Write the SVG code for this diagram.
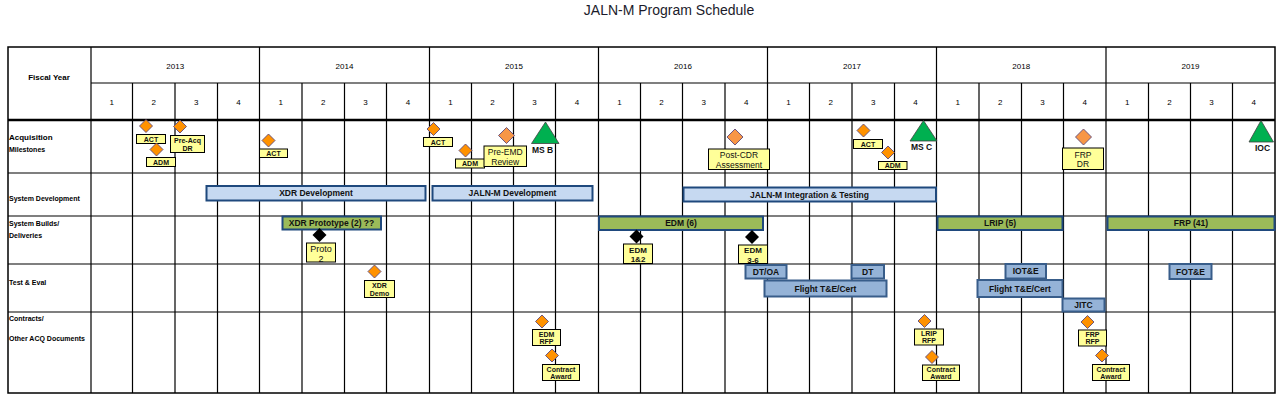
<svg xmlns="http://www.w3.org/2000/svg" xmlns:xlink="http://www.w3.org/1999/xlink" width="1279" height="400" viewBox="0 0 1279 400">
<style>
.g{stroke:#000;stroke-width:1.2;fill:none}
.tk{stroke:#000;stroke-width:2.6}
.t{font-family:"Liberation Sans",Arial,sans-serif;fill:#000}
.hd{font-size:8px;text-anchor:middle}
.rl{font-size:7px;font-weight:bold}
.yl{fill:#FFFF99;stroke:#000;stroke-width:1}
.ds{fill:#FF9200;stroke:#5F497A;stroke-width:0.9}
.dl{fill:#F79646;stroke:#5F497A;stroke-width:0.9}
.db{fill:#000}
.ms{fill:#00B050;stroke:#404040;stroke-width:0.8}
.b1{fill:#C6D9F1;stroke:#1F497D;stroke-width:2}
.b2{fill:#9BBB59;stroke:#1F497D;stroke-width:2}
.b3{fill:#95B3D7;stroke:#385D8A;stroke-width:2}
.bt{font-family:"Liberation Sans",Arial,sans-serif;font-size:8.5px;font-weight:bold;fill:#111;text-anchor:middle}
.sl{font-family:"Liberation Sans",Arial,sans-serif;font-size:7px;font-weight:bold;fill:#111;text-anchor:middle}
.ll{font-family:"Liberation Sans",Arial,sans-serif;font-size:8.5px;fill:#111;text-anchor:middle}
.ml{font-family:"Liberation Sans",Arial,sans-serif;font-size:8.5px;font-weight:bold;fill:#111;text-anchor:middle}
</style>
<defs>
<path id="dS" d="M0,-6.5L6.5,0L0,6.5L-6.5,0Z"/>
<path id="dL" d="M0,-8L8,0L0,8L-8,0Z"/>
<path id="dB" d="M0,-7L7,0L0,7L-7,0Z"/>
</defs>
<text x="669" y="15" style="font-family:'Liberation Sans',Arial,sans-serif;font-size:14px;fill:#1b1b2b;text-anchor:middle">JALN-M Program Schedule</text>

<g id="grid">
<rect class="g" x="8" y="47" width="1267" height="346" style="stroke-width:1.5"/>
<path class="g" d="M91,83H1275M8,173H1275M8,216H1275M8,264H1275M8,312H1275"/>
<path class="tk" d="M8,120H1275"/>
<path class="g" d="M91,47V393M259.5,47V393M429.5,47V393M598.5,47V393M767.5,47V393M936.5,47V393M1106,47V393"/>
<path class="g" d="M132.5,83V393M175,83V393M217.5,83V393M302,83V393M344.5,83V393M386.5,83V393M471.5,83V393M513.5,83V393M555.5,83V393M640.5,83V393M682.5,83V393M725,83V393M809.5,83V393M852,83V393M894.5,83V393M979,83V393M1021.5,83V393M1063.5,83V393M1148.5,83V393M1190.5,83V393M1232.5,83V393"/>
</g>

<g id="headers" class="t">
<text x="49" y="79.5" style="font-size:8px;font-weight:bold;text-anchor:middle">Fiscal Year</text>
<g class="hd">
<text x="175.2" y="68.5">2013</text><text x="344.5" y="68.5">2014</text><text x="514" y="68.5">2015</text><text x="683" y="68.5">2016</text><text x="852" y="68.5">2017</text><text x="1021.2" y="68.5">2018</text><text x="1190.5" y="68.5">2019</text>
<text x="111.7" y="105">1</text><text x="153.7" y="105">2</text><text x="196.2" y="105">3</text><text x="238.5" y="105">4</text>
<text x="280.7" y="105">1</text><text x="323.2" y="105">2</text><text x="365.5" y="105">3</text><text x="408" y="105">4</text>
<text x="450.5" y="105">1</text><text x="492.5" y="105">2</text><text x="534.5" y="105">3</text><text x="577" y="105">4</text>
<text x="619.5" y="105">1</text><text x="661.5" y="105">2</text><text x="703.7" y="105">3</text><text x="746.2" y="105">4</text>
<text x="788.5" y="105">1</text><text x="830.7" y="105">2</text><text x="873.2" y="105">3</text><text x="915.5" y="105">4</text>
<text x="957.7" y="105">1</text><text x="1000.2" y="105">2</text><text x="1042.5" y="105">3</text><text x="1084.7" y="105">4</text>
<text x="1127.2" y="105">1</text><text x="1169.5" y="105">2</text><text x="1211.5" y="105">3</text><text x="1253.7" y="105">4</text>
</g>
<text x="9" y="140" style="font-size:8px;font-weight:bold">Acquisition</text>
<text x="9" y="152" class="rl">Milestones</text>
<text x="9" y="201" class="rl">System Development</text>
<text x="9" y="226" class="rl">System Builds/</text>
<text x="9" y="237.5" class="rl">Deliveries</text>
<text x="9" y="285" class="rl">Test &amp; Eval</text>
<text x="9" y="321" class="rl">Contracts/</text>
<text x="9" y="341" class="rl">Other ACQ Documents</text>
</g>

<g id="connectors"/>

<!-- System development bars -->
<g id="xdr-dev"><rect class="b1" x="206.5" y="186" width="219" height="14.5"/><text class="bt" x="316" y="196.3">XDR Development</text></g>
<g id="jaln-dev"><rect class="b1" x="432.5" y="186" width="160" height="14.5"/><text class="bt" x="512.5" y="196.3">JALN-M Development</text></g>
<g id="jaln-int"><rect class="b1" x="683.5" y="187.5" width="252.5" height="14"/><text class="bt" x="809.5" y="197.6">JALN-M Integration &amp; Testing</text></g>

<!-- System builds -->
<g id="xdr-proto"><rect class="b2" x="282.5" y="216.5" width="98.5" height="13"/><text class="bt" x="331.5" y="226">XDR Prototype (2)  ??</text></g>
<g id="edm6"><rect class="b2" x="599" y="216.5" width="164" height="13.5"/><text class="bt" x="681" y="226.2">EDM (6)</text></g>
<g id="lrip"><rect class="b2" x="937.5" y="216.5" width="125" height="13.5"/><text class="bt" x="1000" y="226.2">LRIP (5)</text></g>
<g id="frp"><rect class="b2" x="1107.5" y="216.5" width="167" height="13.5"/><text class="bt" x="1191" y="226.2">FRP (41)</text></g>
<g id="proto2"><rect class="yl" x="306.5" y="243" width="29" height="19"/><text class="ll" x="321" y="252" style="font-size:9px">Proto</text><text class="ll" x="321" y="261.5" style="font-size:9px">2</text><use xlink:href="#dB" class="db" x="319.5" y="235"/></g>
<g id="edm12"><rect class="yl" x="623.5" y="244" width="29" height="19.5"/><text class="sl" x="638" y="252.5" style="font-size:8px">EDM</text><text class="sl" x="638" y="262.3" style="font-size:8px">1&amp;2</text><use xlink:href="#dB" class="db" x="636.5" y="236.5"/></g>
<g id="edm36"><rect class="yl" x="738.5" y="245" width="29" height="18.5"/><text class="sl" x="753" y="253.3" style="font-size:8px">EDM</text><text class="sl" x="753" y="262.8" style="font-size:8px">3-6</text><use xlink:href="#dB" class="db" x="752" y="237"/></g>

<!-- Test & Eval -->
<g id="xdr-demo"><rect class="yl" x="364.5" y="280.5" width="30" height="17"/><text class="sl" x="379.5" y="288">XDR</text><text class="sl" x="379.5" y="295.5">Demo</text><use xlink:href="#dS" class="ds" x="374.5" y="271.5"/></g>
<g id="dtoa"><rect class="b3" x="745.5" y="265" width="41" height="13.5"/><text class="bt" x="766" y="274.8">DT/OA</text></g>
<g id="flight1"><rect class="b3" x="764.5" y="280.5" width="122" height="16"/><text class="bt" x="825.5" y="291.5">Flight T&amp;E/Cert</text></g>
<g id="dt"><rect class="b3" x="851.5" y="265" width="32.5" height="13.5"/><text class="bt" x="867.7" y="274.8">DT</text></g>
<g id="iote"><rect class="b3" x="1005.5" y="264" width="40.5" height="14.5"/><text class="bt" x="1025.7" y="274.3">IOT&amp;E</text></g>
<g id="flight2"><rect class="b3" x="977.5" y="280" width="85" height="17"/><text class="bt" x="1020" y="291.5">Flight T&amp;E/Cert</text></g>
<g id="jitc"><rect class="b3" x="1062.5" y="298.5" width="42" height="13"/><text class="bt" x="1083.5" y="308">JITC</text></g>
<g id="fote"><rect class="b3" x="1169.5" y="264" width="42" height="15"/><text class="bt" x="1190.5" y="274.5">FOT&amp;E</text></g>

<!-- Acquisition milestones -->
<g id="act1"><rect class="yl" x="136.5" y="134.5" width="29" height="9"/><text class="sl" x="151" y="141.6">ACT</text><use xlink:href="#dS" class="ds" x="146" y="126"/></g>
<g id="adm1"><rect class="yl" x="146.5" y="157.5" width="29" height="9"/><text class="sl" x="161" y="164.6">ADM</text><use xlink:href="#dS" class="ds" x="156.5" y="149.5"/></g>
<g id="preacq"><rect class="yl" x="170.5" y="135.5" width="34" height="17"/><text class="sl" x="187.5" y="143">Pre-Acq</text><text class="sl" x="187.5" y="150.5">DR</text><use xlink:href="#dS" class="ds" x="180" y="126.5"/></g>
<g id="act2"><rect class="yl" x="259.5" y="149" width="28" height="8.5"/><text class="sl" x="273.5" y="155.8">ACT</text><use xlink:href="#dS" class="ds" x="268.5" y="140.5"/></g>
<g id="act3"><rect class="yl" x="423.5" y="137.5" width="29" height="9"/><text class="sl" x="438" y="144.6">ACT</text><use xlink:href="#dS" class="ds" x="433.5" y="129"/></g>
<g id="adm2"><rect class="yl" x="455.5" y="159" width="29" height="9"/><text class="sl" x="470" y="166.1">ADM</text><use xlink:href="#dS" class="ds" x="465.5" y="150.5"/></g>
<g id="preemd"><rect class="yl" x="484" y="146" width="42.5" height="20.5"/><text class="ll" x="505.2" y="155">Pre-EMD</text><text class="ll" x="505.2" y="164.5">Review</text><use xlink:href="#dL" class="dl" x="506.5" y="135.5"/></g>
<g id="msb"><polygon class="ms" points="545.5,122 559,143.5 531.5,143.5"/><text class="ml" x="542.5" y="152.5">MS B</text></g>
<g id="postcdr"><rect class="yl" x="708.5" y="149" width="61" height="20.5"/><text class="ll" x="739" y="158">Post-CDR</text><text class="ll" x="739" y="167.5">Assessment</text><use xlink:href="#dL" class="dl" x="735" y="137"/></g>
<g id="act4"><rect class="yl" x="853.5" y="139.5" width="29" height="9"/><text class="sl" x="868" y="146.6">ACT</text><use xlink:href="#dS" class="ds" x="863.5" y="130.5"/></g>
<g id="adm3"><rect class="yl" x="878.5" y="161.5" width="28.5" height="8"/><text class="sl" x="892.7" y="168.1">ADM</text><use xlink:href="#dS" class="ds" x="888" y="152.5"/></g>
<g id="msc"><polygon class="ms" points="923.5,120.5 937,141 910,141"/><text class="ml" x="921.5" y="150">MS C</text></g>
<g id="frpdr"><rect class="yl" x="1062.5" y="148" width="41" height="21.5"/><text class="ll" x="1083" y="157.5">FRP</text><text class="ll" x="1083" y="167">DR</text><use xlink:href="#dL" class="dl" x="1083.5" y="137"/></g>
<g id="ioc"><polygon class="ms" points="1261,120.5 1273.5,142 1249,142"/><text class="ml" x="1262.5" y="150.5">IOC</text></g>

<!-- Contracts -->
<g id="edmrfp"><rect class="yl" x="532.5" y="329.5" width="28" height="16"/><text class="sl" x="546.5" y="336.5">EDM</text><text class="sl" x="546.5" y="343.8">RFP</text><use xlink:href="#dS" class="ds" x="542" y="321.5"/></g>
<g id="ca1"><rect class="yl" x="542.5" y="364.5" width="37" height="16"/><text class="sl" x="561" y="371.5">Contract</text><text class="sl" x="561" y="379">Award</text><use xlink:href="#dS" class="ds" x="552" y="355.5"/></g>
<g id="lriprfp"><rect class="yl" x="914.5" y="329" width="29" height="16"/><text class="sl" x="929" y="336">LRIP</text><text class="sl" x="929" y="343.3">RFP</text><use xlink:href="#dS" class="ds" x="924.5" y="321"/></g>
<g id="ca2"><rect class="yl" x="922.5" y="365" width="37" height="15.5"/><text class="sl" x="941" y="372">Contract</text><text class="sl" x="941" y="379.3">Award</text><use xlink:href="#dS" class="ds" x="932" y="357"/></g>
<g id="frprfp"><rect class="yl" x="1078.5" y="330" width="28" height="16"/><text class="sl" x="1092.5" y="337">FRP</text><text class="sl" x="1092.5" y="344.3">RFP</text><use xlink:href="#dS" class="ds" x="1087.5" y="322"/></g>
<g id="ca3"><rect class="yl" x="1092.5" y="364.5" width="37" height="16"/><text class="sl" x="1111" y="371.5">Contract</text><text class="sl" x="1111" y="379">Award</text><use xlink:href="#dS" class="ds" x="1102" y="355.5"/></g>
</svg>
